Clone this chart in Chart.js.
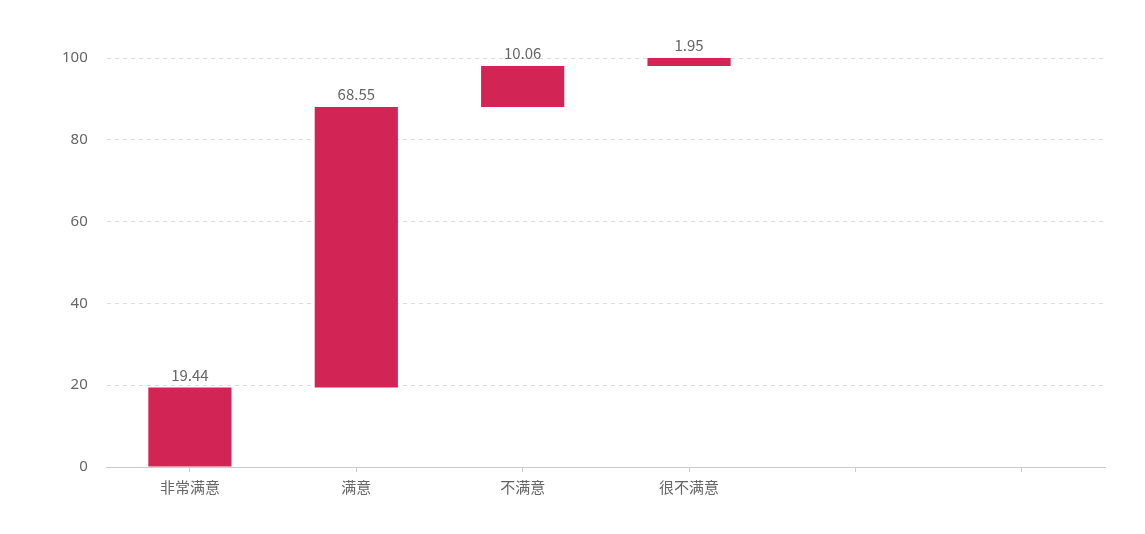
<!DOCTYPE html>
<html>
<head>
<meta charset="utf-8">
<script src="https://cdn.jsdelivr.net/npm/chart.js@4"></script>
<style>
  html, body { margin: 0; padding: 0; background: #fff; }
  #wrap { width: 1145px; height: 534px; }
</style>
</head>
<body>
<div id="wrap"><canvas id="waterfall"></canvas></div>
<script>
// data
const categories = ['非常满意', '满意', '不满意', '很不满意', '', ''];
const values = [19.44, 68.55, 10.06, 1.95];
const yTicks = [0, 20, 40, 60, 80, 100];

// floating bars: each starts where the previous one ended
let running = 0;
const ranges = values.map(function (v) {
    const r = [running, running + v];
    running += v;
    return r;
});

// labels above each bar
const barLabels = {
    id: 'barLabels',
    afterDatasetsDraw(chart) {
        const ctx = chart.ctx;
        const meta = chart.getDatasetMeta(0);
        ctx.save();
        ctx.font = '15px "Noto Sans CJK SC", "Noto Sans", sans-serif';
        ctx.fillStyle = '#666';
        ctx.textAlign = 'center';
        ctx.textBaseline = 'bottom';
        meta.data.forEach(function (bar, i) {
            if (values[i] === undefined) return;
            const top = Math.min(bar.y, bar.base);
            ctx.fillText(values[i].toFixed(2), bar.x, top - 5);
        });
        ctx.restore();
    }
};

new Chart(document.getElementById('waterfall'), {
    type: 'bar',
    data: {
        labels: categories,
        datasets: [{
            data: ranges,
            backgroundColor: '#d22556',
            borderWidth: 0,
            borderSkipped: false,
            barPercentage: 0.5,
            categoryPercentage: 1
        }]
    },
    options: {
        responsive: true,
        maintainAspectRatio: false,
        animation: false,
        layout: { padding: { top: 58, right: 40, left: 43, bottom: 32 } },
        plugins: {
            legend: { display: false },
            tooltip: { enabled: false }
        },
        scales: {
            x: {
                offset: true,
                grid: {
                    offset: false,
                    drawOnChartArea: false,
                    color: '#ccc',
                    tickLength: 5
                },
                border: { color: '#ccc' },
                ticks: {
                    color: '#666',
                    padding: 6,
                    font: { size: 15, family: '"Noto Sans CJK SC", sans-serif' }
                }
            },
            y: {
                min: 0,
                max: 100,
                afterBuildTicks(axis) {
                    axis.ticks = yTicks.map(function (v) { return { value: v }; });
                },
                grid: {
                    color: '#ddd',
                    tickLength: 0,
                    drawTicks: false
                },
                border: { display: false, dash: [4, 4] },
                ticks: {
                    color: '#666',
                    padding: 19,
                    font: { size: 15, family: '"Noto Sans", sans-serif' }
                }
            }
        }
    },
    plugins: [barLabels]
});
</script>
</body>
</html>
